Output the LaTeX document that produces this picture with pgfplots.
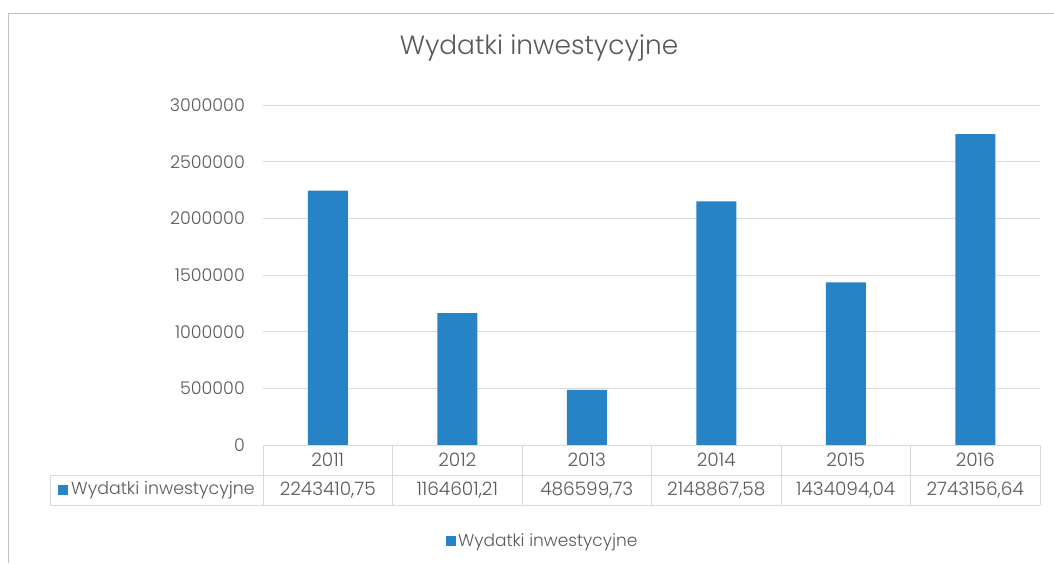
\documentclass[border=0pt]{standalone}
\usepackage{fontspec}
\setmainfont{Poppins}[UprightFont={* Light}]
\usepackage{pgfplots}
\pgfplotsset{compat=1.18}
\definecolor{barblue}{HTML}{2683C6}
\definecolor{txt}{HTML}{595959}
\definecolor{gridc}{HTML}{D9D9D9}
\definecolor{framec}{HTML}{BFBFBF}
\begin{document}
\begin{tikzpicture}[x=1pt,y=1pt]
\useasboundingbox (0,0) rectangle (1054,563);
% chart frame
\draw[framec,line width=1pt] (1054,549) -- (8,549) -- (8,0);
% title
\node[txt,font=\fontsize{26.4}{30}\selectfont] at (539,515) {Wydatki inwestycyjne};
\begin{axis}[
  at={(263pt,118pt)}, anchor=south west, scale only axis,
  width=777pt, height=340pt,
  xmin=-0.5, xmax=5.5, ymin=0, ymax=3000000,
  axis line style={draw=none},
  ymajorgrids, grid style={gridc, line width=0.8pt},
  major tick length=0pt,
  ytick={0,500000,1000000,1500000,2000000,2500000,3000000},
  scaled y ticks=false,
  yticklabel style={/pgf/number format/fixed, /pgf/number format/1000 sep={}, /pgf/number format/assume math mode=true, inner sep=0pt, anchor=east, xshift=-18pt, text=txt, font=\fontsize{17.5}{20}\selectfont},
  xtick={0,1,2,3,4,5},
  xticklabels={2011,2012,2013,2014,2015,2016},
  xticklabel style={inner sep=0pt, anchor=center, yshift=-15pt, text=txt, font=\fontsize{18.5}{20}\selectfont},
  legend style={draw=none, at={(0.36,-0.282)}, anchor=center, text=txt, font=\fontsize{17}{19}\selectfont},
  legend image code/.code={\fill[barblue] (0pt,-5pt) rectangle (10pt,5pt);},
]
\addplot[ybar, bar width=40pt, fill=barblue, draw=none] coordinates {
(0,2243410.75) (1,1164601.21) (2,486599.73) (3,2148867.58) (4,1434094.04) (5,2743156.64)};
\addlegendentry{Wydatki inwestycyjne}
\end{axis}
% data table
\begin{scope}[gridc, line width=1pt]
\draw (263,118) -- (1040,118);
\draw (50,88) -- (1040,88);
\draw (50,58) -- (1040,58);
\draw (50,88) -- (50,58);
\foreach \xx in {263,392.5,522,651.5,781,910.5,1040} {\draw (\xx,118) -- (\xx,58);}
\end{scope}
\fill[barblue] (58,68) rectangle (68,78);
\node[txt,anchor=west,inner sep=0pt,font=\fontsize{17.4}{19}\selectfont] at (71,73) {Wydatki inwestycyjne};
\foreach \cx/\v in {327.75/{2243410,75},457.25/{1164601,21},586.75/{486599,73},716.25/{2148867,58},845.75/{1434094,04},975.25/{2743156,64}}
  {\node[txt,font=\fontsize{18.5}{20}\selectfont] at (\cx,73) {\v};}
\end{tikzpicture}
\end{document}
